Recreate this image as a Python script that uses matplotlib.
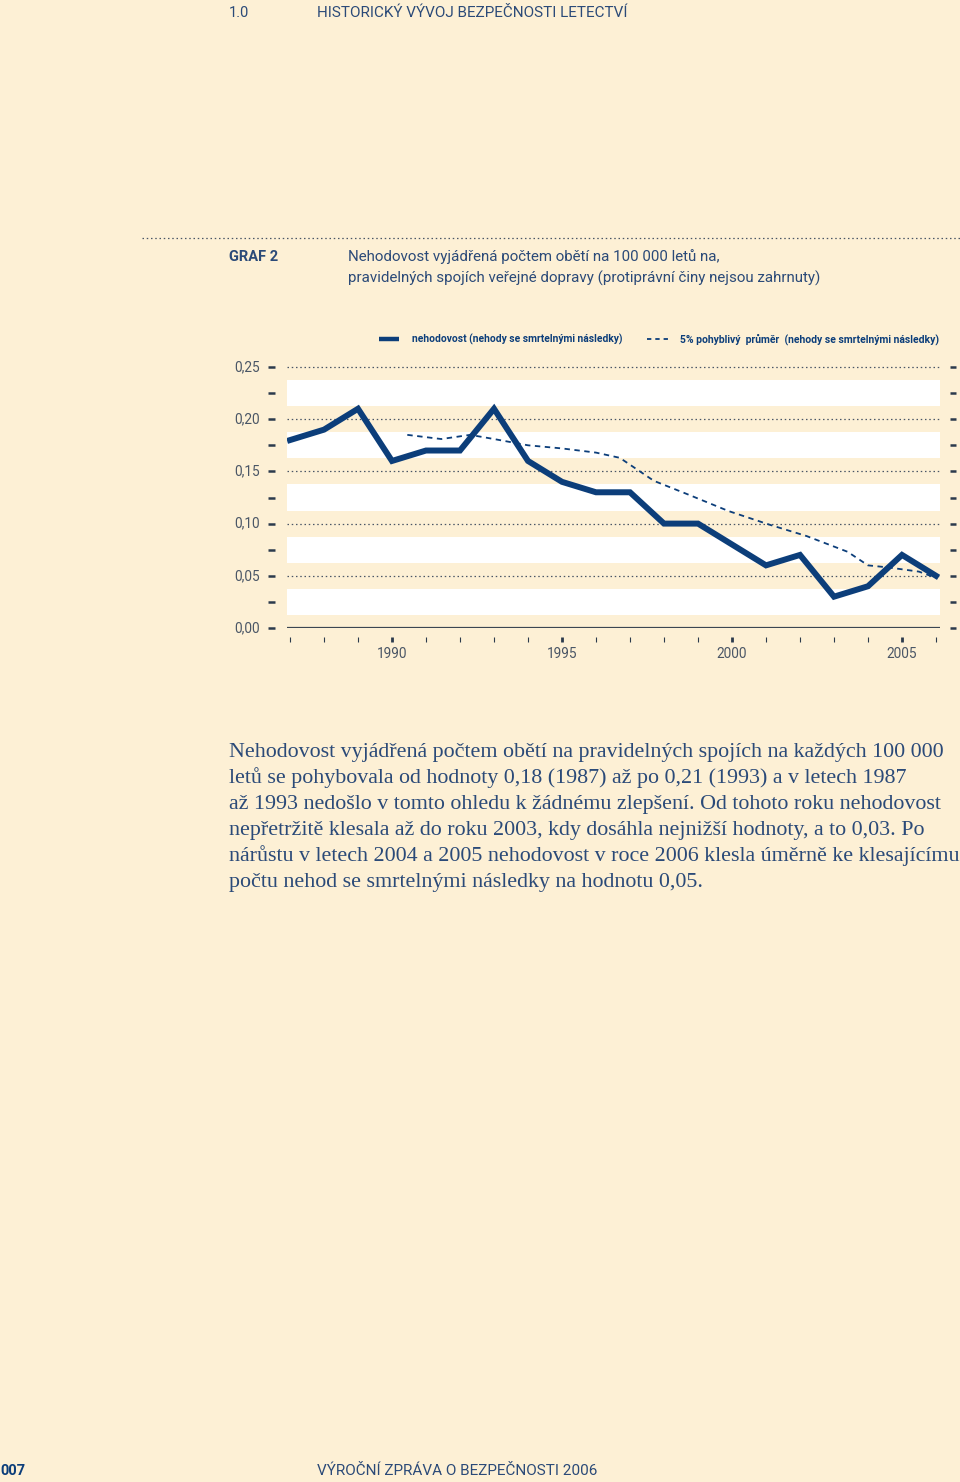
import matplotlib
matplotlib.use("Agg")
import matplotlib.pyplot as plt
from matplotlib.lines import Line2D

# --- data ---
years = list(range(1987, 2007))
rate = [0.18, 0.19, 0.21, 0.16, 0.17, 0.17, 0.21, 0.16, 0.14, 0.13,
        0.13, 0.10, 0.10, 0.08, 0.06, 0.07, 0.03, 0.04, 0.07, 0.05]

# 5% moving average (dashed line), sampled along the curve
ma_x = [1990.45, 1991.45, 1992.3, 1993.0, 1994.0, 1995.0, 1996.0, 1996.7,
        1997.7, 1998.7, 1999.9, 2001.1, 2002.2, 2003.4, 2004.0, 2004.6,
        2005.5, 2006.0]
ma_y = [0.185, 0.181, 0.185, 0.181, 0.175, 0.172, 0.168, 0.163,
        0.141, 0.128, 0.112, 0.099, 0.088, 0.073, 0.060, 0.058,
        0.054, 0.048]

y_major = [0.00, 0.05, 0.10, 0.15, 0.20, 0.25]
y_labels = ["0,00", "0,05", "0,10", "0,15", "0,20", "0,25"]
x_major = [1990, 1995, 2000, 2005]

header_num = "1.0"
header_txt = "HISTORICKÝ VÝVOJ BEZPEČNOSTI LETECTVÍ"
graf_lbl = "GRAF 2"
graf_title = ["Nehodovost vyjádřená počtem obětí na 100 000 letů na,",
              "pravidelných spojích veřejné dopravy (protiprávní činy nejsou zahrnuty)"]
leg1 = "nehodovost (nehody se smrtelnými následky)"
leg2 = "5% pohyblivý  průměr  (nehody se smrtelnými následky)"
para = ["Nehodovost vyjádřená počtem obětí na pravidelných spojích na každých 100 000",
        "letů se pohybovala od hodnoty 0,18 (1987) až po 0,21 (1993) a v letech 1987",
        "až 1993 nedošlo v tomto ohledu k žádnému zlepšení. Od tohoto roku nehodovost",
        "nepřetržitě klesala až do roku 2003, kdy dosáhla nejnižší hodnoty, a to 0,03. Po",
        "nárůstu v letech 2004 a 2005 nehodovost v roce 2006 klesla úměrně ke klesajícímu",
        "počtu nehod se smrtelnými následky na hodnotu 0,05."]
footer_num = "007"
footer_txt = "VÝROČNÍ ZPRÁVA O BEZPEČNOSTI 2006"

BG = "#fdf0d5"
NAVY = "#0c3e7a"
TXT = "#2b4a78"
GREY = "#4a5666"
SANS = ["Roboto", "DejaVu Sans"]
SERIF = ["Liberation Serif", "DejaVu Serif"]

W, H = 960, 1482
fig = plt.figure(figsize=(W / 100, H / 100), dpi=100, facecolor=BG)


def fx(px):
    return px / W


def fy(py):
    return 1 - py / H


# header
fig.text(fx(229), fy(13), header_num, family=SANS, fontsize=10.5, color=TXT, va="center")
fig.text(fx(317), fy(13), header_txt, family=SANS, fontsize=11, color=TXT, va="center")

# dotted separator
fig.add_artist(Line2D([fx(142), fx(960)], [fy(238), fy(238)], color=GREY, lw=0.9,
                      dashes=(1.2, 2.2)))

fig.text(fx(229), fy(257), graf_lbl, family=SANS, fontsize=10.5, color=TXT,
         weight="bold", va="center")
fig.text(fx(348), fy(257), graf_title[0], family=SANS, fontsize=10.9, color=TXT, va="center")
fig.text(fx(348), fy(278), graf_title[1], family=SANS, fontsize=10.9, color=TXT, va="center")

# legend
fig.add_artist(Line2D([fx(379), fx(399)], [fy(339), fy(339)], color=NAVY, lw=3.2,
                      solid_capstyle="butt"))
fig.text(fx(412), fy(339), leg1, family=SANS, fontsize=7.4, color=NAVY, weight="bold",
         va="center")
fig.add_artist(Line2D([fx(647), fx(669)], [fy(339), fy(339)], color=NAVY, lw=1.3,
                      dashes=(2.4, 2.2)))
fig.text(fx(680), fy(339), leg2, family=SANS, fontsize=7.5, color=NAVY, weight="bold",
         va="center")

# chart axes: 0.00 at y=628px, 1987 at x=290px, 34px per year
y0_px, top_px = 628, 360
ax = fig.add_axes([fx(287), fy(y0_px), (940 - 287) / W, (y0_px - top_px) / H])
ax.set_facecolor("none")
ax.set_xlim(1987 - 3 / 34, 2006 + 4 / 34)
ax.set_ylim(0, (y0_px - top_px) / 1044)
for s in ax.spines.values():
    s.set_visible(False)
ax.set_xticks([])
ax.set_yticks([])

# white bands between the major gridlines
for v in y_major[:-1]:
    ax.axhspan(v + 0.0125, v + 0.0375, color="white", lw=0, zorder=0)

# dotted gridlines and baseline
for v in y_major[1:]:
    ax.axhline(v, color=GREY, lw=0.9, dashes=(1.2, 2.2), zorder=1)
ax.axhline(0, color="#3c4652", lw=1.6, zorder=2)

# y tick dashes on both sides
for k in range(11):
    v = k * 0.025
    ax.plot([1986.35, 1986.56], [v, v], color="#2b3a4c", lw=1.8, clip_on=False,
            solid_capstyle="butt")
    ax.plot([2006.42, 2006.6], [v, v], color="#2b3a4c", lw=1.8, clip_on=False,
            solid_capstyle="butt")
for v, lab in zip(y_major, y_labels):
    ax.text(1986.12, v, lab, family=SANS, fontsize=9.8, color=GREY, ha="right",
            va="center", clip_on=False)

# x tick marks below the baseline
for yr in years:
    major = yr in x_major
    ax.plot([yr, yr], [-0.0085, -0.013], color="#2b3a4c", lw=2.0 if major else 0.8,
            clip_on=False, solid_capstyle="butt")
for yr in x_major:
    ax.text(yr, -0.0245, str(yr), family=SANS, fontsize=9.8, color=GREY, ha="center",
            va="center", clip_on=False)

# series
ax.plot(ma_x, ma_y, color=NAVY, lw=1.3, dashes=(3, 2.5), zorder=3)
ax.plot(years, rate, color=NAVY, lw=4.3, solid_joinstyle="miter", zorder=4)

# paragraph
for i, line in enumerate(para):
    fig.text(fx(229), fy(757 + 26 * i), line, family=SERIF, fontsize=15.8, color=TXT,
             va="baseline")

# footer
fig.text(fx(0), fy(1471), footer_num, family=SANS, fontsize=10.5, color=NAVY,
         weight="bold", va="center")
fig.text(fx(317), fy(1471), footer_txt, family=SANS, fontsize=11, color=TXT, va="center")

fig.savefig("out.png", dpi=100, facecolor=BG)
